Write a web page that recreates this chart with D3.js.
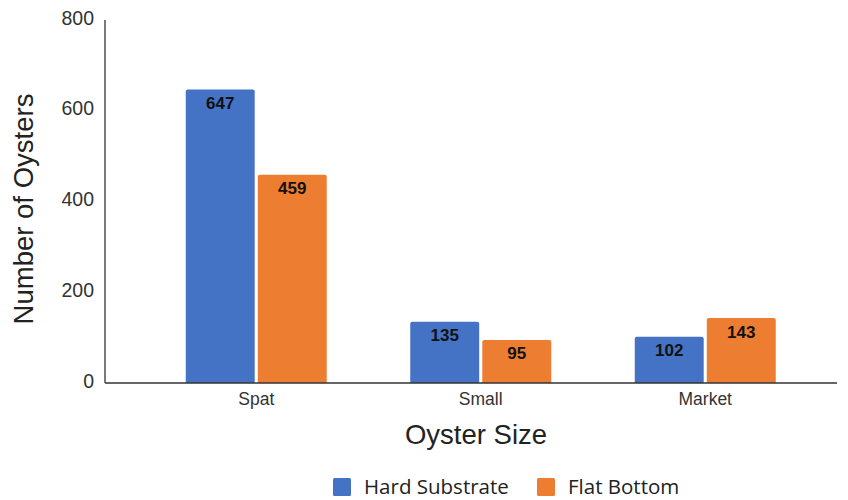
<!DOCTYPE html>
<html>
<head>
<meta charset="utf-8">
<script src="https://cdn.jsdelivr.net/npm/d3@7"></script>
<style>
  html, body { margin: 0; padding: 0; background: #fff; }
  svg { display: block; }
</style>
</head>
<body>
<svg id="chart" width="848" height="500"></svg>
<script>
// Oyster counts by size class and bottom type
const categories = ["Spat", "Small", "Market"];
const seriesNames = ["Hard Substrate", "Flat Bottom"];
const hardSubstrate = [647, 135, 102];
const flatBottom = [459, 95, 143];
const yTicks = [0, 200, 400, 600, 800];
const colors = ["#4472C4", "#ED7D31"];

const seriesValues = [hardSubstrate, flatBottom];
const rows = categories.map((c, i) => ({
  category: c,
  values: seriesNames.map((s, j) => ({ series: s, value: seriesValues[j][i], color: colors[j] }))
}));

const svg = d3.select("#chart");
const axisLeft = 105, axisRight = 837, plotTop = 20, plotBottom = 383;

const x = d3.scaleBand().domain(categories).range([144, 817.5]).paddingInner(0.372).paddingOuter(0.186);
const xs = d3.scaleBand().domain(seriesNames).range([0, x.bandwidth()]).paddingInner(0.043);
const y = d3.scaleLinear().domain([0, 800]).range([plotBottom, plotTop]);

// Y tick labels
svg.append("g").selectAll("text").data(yTicks).join("text")
  .attr("x", 94).attr("y", d => y(d) + 4.5)
  .attr("text-anchor", "end")
  .style("font-family", "Liberation Sans, Arial, sans-serif")
  .style("font-size", "19.5px").style("fill", "#333")
  .text(d => d);

// Bars
const groups = svg.append("g").selectAll("g").data(rows).join("g")
  .attr("transform", d => `translate(${x(d.category)},0)`);

groups.selectAll("path").data(d => d.values).join("path")
  .attr("fill", d => d.color)
  .attr("d", d => {
    const x0 = xs(d.series), w = xs.bandwidth(), y0 = y(d.value), r = 2;
    return `M${x0},${plotBottom}V${y0 + r}Q${x0},${y0} ${x0 + r},${y0}H${x0 + w - r}Q${x0 + w},${y0} ${x0 + w},${y0 + r}V${plotBottom}Z`;
  });

groups.selectAll("text").data(d => d.values).join("text")
  .attr("x", d => xs(d.series) + xs.bandwidth() / 2)
  .attr("y", d => y(d.value) + 19.5)
  .attr("text-anchor", "middle")
  .style("font-family", "Liberation Sans, Arial, sans-serif")
  .style("font-size", "17px").style("font-weight", "bold").style("fill", "#111")
  .text(d => d.value);

// Axis lines
svg.append("line").attr("x1", axisLeft).attr("x2", axisLeft).attr("y1", plotTop).attr("y2", plotBottom)
  .attr("stroke", "#333").attr("stroke-width", 1.3);
svg.append("line").attr("x1", axisLeft).attr("x2", axisRight).attr("y1", plotBottom).attr("y2", plotBottom)
  .attr("stroke", "#333").attr("stroke-width", 1.3);

// Category labels
svg.append("g").selectAll("text").data(categories).join("text")
  .attr("x", d => x(d) + x.bandwidth() / 2).attr("y", 405)
  .attr("text-anchor", "middle")
  .style("font-family", "Liberation Sans, Arial, sans-serif")
  .style("font-size", "17.5px").style("fill", "#333")
  .text(d => d);

// Axis titles
svg.append("text").attr("x", 476).attr("y", 444).attr("text-anchor", "middle")
  .style("font-family", "Liberation Sans, Arial, sans-serif")
  .style("font-size", "27.5px").style("fill", "#222")
  .text("Oyster Size");

svg.append("text").attr("transform", "translate(33,209) rotate(-90)").attr("text-anchor", "middle")
  .style("font-family", "Liberation Sans, Arial, sans-serif")
  .style("font-size", "27.5px").style("fill", "#222")
  .text("Number of Oysters");

// Legend
const legendX = [333, 537];
const legend = svg.append("g").selectAll("g").data(seriesNames).join("g")
  .attr("transform", (d, i) => `translate(${legendX[i]},478)`);
legend.append("rect").attr("width", 18).attr("height", 18).attr("rx", 1.5).attr("fill", (d, i) => colors[i]);
legend.append("text").attr("x", 31).attr("y", 16)
  .style("font-family", "Open Sans, sans-serif")
  .style("font-size", "20.5px").style("fill", "#222")
  .text(d => d);
</script>
</body>
</html>
